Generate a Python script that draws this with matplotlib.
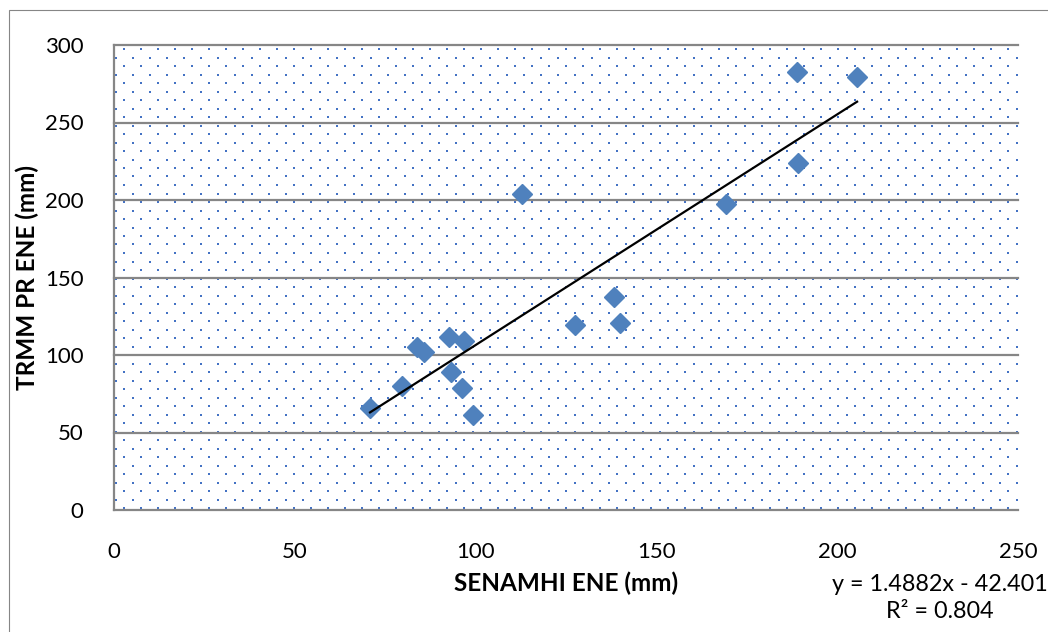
import matplotlib.pyplot as plt
import numpy as np
from matplotlib.patches import Rectangle

# SENAMHI (x) vs TRMM PR (y), January, mm
senamhi = [70.8, 79.6, 83.7, 85.8, 92.7, 96.9, 93.2, 96.3, 99.4,
           112.7, 127.6, 138.4, 140.0, 169.2, 188.8, 189.2, 205.5]
trmm = [65.6, 80.0, 105.4, 101.7, 111.8, 109.2, 88.8, 78.5, 61.5,
        203.9, 119.4, 137.4, 120.6, 197.4, 282.4, 224.1, 279.6]

slope, intercept = 1.4882, -42.401
r2 = 0.804

xticks = [0, 50, 100, 150, 200, 250]
yticks = [0, 50, 100, 150, 200, 250, 300]

plt.rcParams['font.family'] = ['Lato', 'DejaVu Sans']

W, H = 1048, 632
fig = plt.figure(figsize=(W / 100, H / 100), dpi=100)
ax = fig.add_axes([114 / W, (H - 510) / H, 904 / W, 465 / H])

grey = '#868686'
blue = '#4F81BD'

# figure border (only left/top visible in the crop)
fig.patches.append(Rectangle((9 / W, -0.1), 1.2, 1.1 - 10 / H, transform=fig.transFigure,
                             fill=False, ec=grey, lw=0.8))

# dotted plot-area fill
pw, ph = 904.0, 465.0
rows = np.arange(4, ph, 8.5)
dx, dy = [], []
for i, r in enumerate(rows):
    start = 10 if i % 2 == 0 else 1.5
    cols = np.arange(start, pw, 17)
    dx.extend(cols / pw)
    dy.extend([1 - r / ph] * len(cols))
ax.scatter(dx, dy, s=2.2, marker='s', c='#4472C4', linewidths=0,
           transform=ax.transAxes, zorder=0)

for yv in yticks:
    ax.axhline(yv, color=grey, lw=1.6, clip_on=False, zorder=1)

ax.plot(senamhi, trmm, 'D', ms=10.5, color=blue, zorder=3)

xs = np.array([min(senamhi), max(senamhi)])
ax.plot(xs, slope * xs + intercept, color='black', lw=1.6, zorder=4)

ax.set_xlim(0, 250)
ax.set_ylim(0, 300)
ax.set_xticks(xticks)
ax.set_yticks(yticks)
ax.tick_params(length=0, labelsize=16)
ax.tick_params(axis='x', pad=23)
ax.tick_params(axis='y', pad=22)

for s in ['top', 'right', 'bottom']:
    ax.spines[s].set_visible(False)
ax.spines['left'].set_color(grey)
ax.spines['left'].set_linewidth(1.6)

ax.set_xlabel('SENAMHI ENE (mm)', fontsize=17.5, fontweight='bold', labelpad=7)
ax.set_ylabel('TRMM PR ENE (mm)', fontsize=17.5, fontweight='bold', labelpad=4)

fig.text(940 / W, 1 - 598 / H, f'y = {slope}x - {abs(intercept)}\nR² = {r2}',
         ha='center', va='center', fontsize=16.8, linespacing=1.35)

fig.savefig('out.png', dpi=100)
